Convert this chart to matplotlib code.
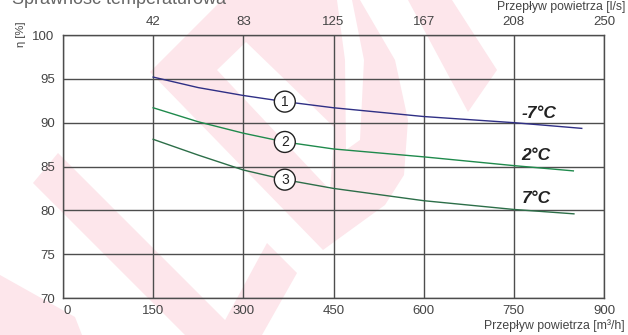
import matplotlib
matplotlib.use("Agg")
import matplotlib.pyplot as plt
from matplotlib.patches import Polygon

plt.rcParams['font.family'] = ['Liberation Sans', 'DejaVu Sans']

# data (airflow m3/h -> efficiency %)
x1 = [150, 225, 300, 369, 450, 600, 750, 863]
eta1 = [95.2, 94.0, 93.1, 92.4, 91.7, 90.7, 90.0, 89.35]
x2 = [150, 225, 300, 369, 450, 600, 750, 849]
eta2 = [91.7, 90.1, 88.8, 87.8, 87.0, 86.1, 85.1, 84.5]
x3 = [150, 225, 300, 369, 450, 600, 750, 850]
eta3 = [88.1, 86.3, 84.6, 83.5, 82.5, 81.1, 80.1, 79.6]

curve_names = ["1", "2", "3"]
temp_labels = ["-7°C", "2°C", "7°C"]
temp_label_y = [91.0, 86.2, 81.4]
marker_x = 369

x_ticks = [0, 150, 300, 450, 600, 750, 900]
top_ticks = [150, 300, 450, 600, 750, 900]
top_labels = ["42", "83", "125", "167", "208", "250"]
y_ticks = [70, 75, 80, 85, 90, 95, 100]

W, H = 628, 335
fig = plt.figure(figsize=(W / 100, H / 100), dpi=100)


def px(pts):
    return [(x / W, 1 - y / H) for x, y in pts]


# faint watermark behind the chart
pink = "#fde6eb"
shapes = [
    [(0, 275), (75, 317), (82, 335), (0, 335)],
    [(33, 183), (58, 153), (240, 335), (185, 335)],
    [(267, 243), (297, 273), (262, 335), (217, 335)],
    [(150, 72), (222, 0), (360, 0), (395, 60), (408, 120), (404, 175), (385, 205), (323, 250)],
    [(408, 0), (452, 0), (497, 70), (468, 112)],
]
for s in shapes:
    fig.patches.append(Polygon(px(s), closed=True, transform=fig.transFigure,
                               fc=pink, ec="none", zorder=-10))
white_cut = [
    [(217, 70), (246, 42), (335, 128), (330, 190)],
    [(337, 0), (352, 0), (364, 60), (360, 140), (346, 150), (345, 60)],
]
for s in white_cut:
    fig.patches.append(Polygon(px(s), closed=True, transform=fig.transFigure,
                               fc="white", ec="none", zorder=-9))

ax = fig.add_axes([63 / W, 1 - 298 / H, (604 - 63) / W, (298 - 35) / H])
ax.set_facecolor("none")
ax.set_xlim(0, 900)
ax.set_ylim(70, 100)

grid_c = "#4d4d4d"
text_c = "#444444"

ax.set_xticks(x_ticks)
ax.set_xticklabels([str(v) for v in x_ticks])
ax.get_xticklabels()[0].set_horizontalalignment("left")
ax.set_yticks(y_ticks)
ax.grid(True, color=grid_c, linewidth=1.0)
ax.tick_params(length=0, labelsize=9.5, labelcolor=text_c)
ax.tick_params(axis="x", pad=5)
ax.tick_params(axis="y", pad=6)
for sp in ax.spines.values():
    sp.set_color(grid_c)
    sp.set_linewidth(1.0)

ax.plot(x1, eta1, color="#2f2f85", linewidth=1.0, zorder=3)
ax.plot(x2, eta2, color="#1f8a4c", linewidth=1.0, zorder=3)
ax.plot(x3, eta3, color="#2c6e48", linewidth=1.0, zorder=3)

for name, xs, ys in zip(curve_names, [x1, x2, x3], [eta1, eta2, eta3]):
    yv = ys[xs.index(marker_x)]
    ax.text(marker_x, yv, name, ha="center", va="center", fontsize=10, color="#222222",
            zorder=5, bbox=dict(boxstyle="circle,pad=0.25", fc="white", ec="#222222", lw=1.0))

for lab, yv in zip(temp_labels, temp_label_y):
    ax.text(763, yv, lab, ha="left", va="center", fontsize=12.5, fontweight="bold",
            fontstyle="italic", color="#222222", zorder=5)

top = ax.twiny()
top.set_xlim(ax.get_xlim())
top.set_xticks(top_ticks)
top.set_xticklabels(top_labels)
top.tick_params(length=0, labelsize=9.5, labelcolor=text_c, pad=5)
for sp in top.spines.values():
    sp.set_visible(False)

fig.text(625 / W, 1 - 7 / H, "Przepływ powietrza [l/s]", ha="right", va="center",
         fontsize=8.8, color=text_c)
fig.text(625 / W, 1 - 326 / H, "Przepływ powietrza [m³/h]", ha="right", va="center",
         fontsize=8.8, color=text_c)
fig.text(21 / W, 1 - 34 / H, "η [%]", ha="center", va="center", rotation=90,
         fontsize=8, color=text_c)
fig.text(12 / W, 1 - 4 / H, "Sprawność temperaturowa", ha="left", va="baseline",
         fontsize=13, color="#666666")

plt.savefig("out.png", dpi=100)
